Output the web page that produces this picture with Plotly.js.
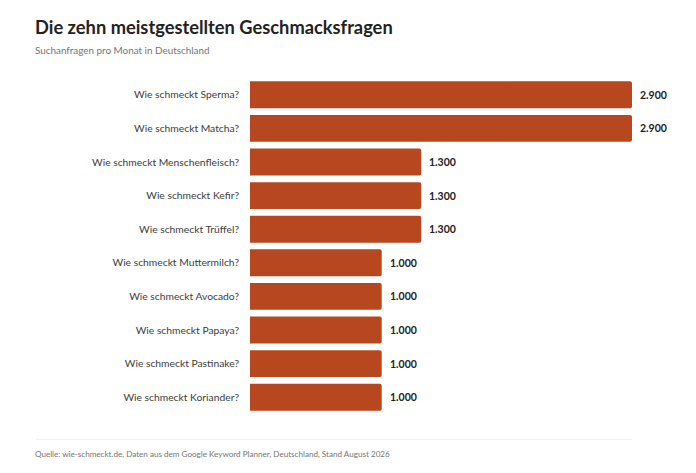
<!DOCTYPE html>
<html><head><meta charset="utf-8">
<script src="https://cdn.plot.ly/plotly-3.0.1.min.js"></script>
<style>html,body{margin:0;padding:0;background:#fff}</style>
</head><body><div id="chart" style="width:696px;height:473px"></div>
<script>
const categories = ["Wie schmeckt Sperma?","Wie schmeckt Matcha?","Wie schmeckt Menschenfleisch?","Wie schmeckt Kefir?","Wie schmeckt Trüffel?","Wie schmeckt Muttermilch?","Wie schmeckt Avocado?","Wie schmeckt Papaya?","Wie schmeckt Pastinake?","Wie schmeckt Koriander?"];
const values = [2900,2900,1300,1300,1300,1000,1000,1000,1000,1000];
const valueLabels = ["2.900","2.900","1.300","1.300","1.300","1.000","1.000","1.000","1.000","1.000"];
const FONT = 'Lato,"Noto Sans",sans-serif';
const W=696,H=473,L=249.5,R=632.5,T=77.5,B=413.7;
const px=x=>(x-L)/(R-L), py=y=>(B-y)/(B-T);
const annotations = values.map((v,i)=>({x:v,y:categories[i],xref:'x',yref:'y',text:valueLabels[i],showarrow:false,xanchor:'left',xshift:6,
  font:{family:FONT,size:10.5,weight:700,color:'#222222'}}));
annotations.push({x:px(35),y:py(49.5),xref:'paper',yref:'paper',xanchor:'left',yanchor:'middle',showarrow:false,xshift:-3,text:'Suchanfragen pro Monat in Deutschland',font:{family:FONT,size:9.9,color:'#757575'}});
annotations.push({x:px(35),y:py(453.5),xref:'paper',yref:'paper',xanchor:'left',yanchor:'middle',showarrow:false,xshift:-3,text:'Quelle: wie-schmeckt.de, Daten aus dem Google Keyword Planner, Deutschland, Stand August 2026',font:{family:FONT,size:8.1,color:'#757575'}});
Plotly.newPlot('chart',[{type:'bar',orientation:'h',x:values,y:categories,marker:{color:'#B7471F',cornerradius:2},width:0.8,hoverinfo:'skip'}],{
  width:W,height:H,autosize:false,paper_bgcolor:'#fff',plot_bgcolor:'#fff',showlegend:false,
  margin:{l:L,r:W-R,t:T,b:H-B,pad:0},
  title:{text:'Die zehn meistgestellten Geschmacksfragen',x:35/W,xref:'container',xanchor:'left',y:1-28/H,yref:'container',yanchor:'middle',font:{family:FONT,size:18.3,weight:700,color:'#222222'}},
  xaxis:{range:[0,2900],visible:false,fixedrange:true},
  yaxis:{type:'category',categoryorder:'array',categoryarray:categories,autorange:false,range:[9.5,-0.5],showgrid:false,zeroline:false,showline:false,ticks:'',ticklabelstandoff:10,tickfont:{family:FONT,size:10.3,color:'#3d3d3d'},fixedrange:true},
  shapes:[{type:'line',xref:'paper',yref:'paper',x0:px(35),x1:px(633),y0:py(439),y1:py(439),line:{color:'#eeeeee',width:1}}],
  annotations
},{displayModeBar:false,staticPlot:true});
</script></body></html>
